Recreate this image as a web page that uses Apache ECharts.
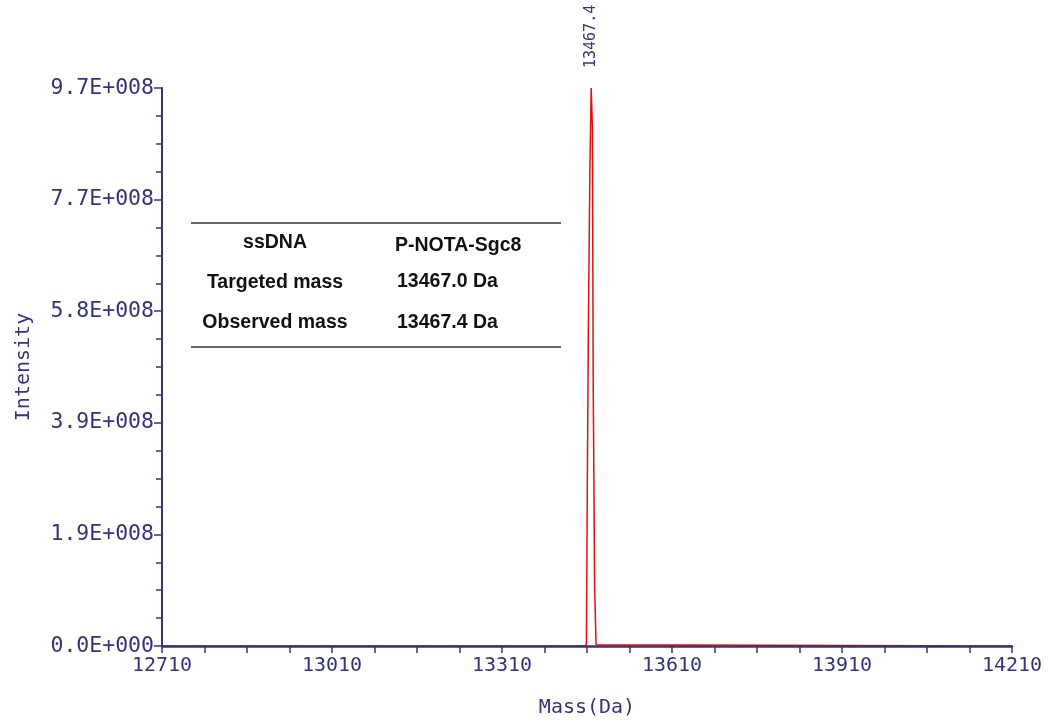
<!DOCTYPE html>
<html>
<head>
<meta charset="utf-8">
<title>Deconvoluted mass spectrum</title>
<script src="https://cdn.jsdelivr.net/npm/echarts@6/dist/echarts.min.js"></script>
<style>
  html, body { margin: 0; padding: 0; background: #ffffff; }
  #chart { width: 1048px; height: 723px; }
</style>
</head>
<body>
<div id="chart"></div>
<script>
// Spectrum: mass (Da) and intensity pairs
const massDa = [12710, 13457.5, 13459, 13460.5, 13462.5, 13465, 13467.4, 13469.5, 13471, 13473.5, 13476, 13477.5, 14210];
const intensity = [0, 0, 0.04e8, 2.7e8, 5.6e8, 8.2e8, 9.68e8, 9.0e8, 4.5e8, 1.0e8, 0.02e8, 0, 0];

// Labelled peak
const peakMass = 13467.4;

// Axis ranges and tick steps
const xMin = 12710, xMax = 14210, xStep = 300;
const yMin = 0, yMax = 9.68e8, yStep = 1.936e8;

// Summary table
const tableLeft = ['ssDNA', 'Targeted mass', 'Observed mass'];
const tableRight = ['P-NOTA-Sgc8', '13467.0 Da', '13467.4 Da'];

const axisColor = '#34347a';
const monoFont = '"DejaVu Sans Mono", monospace';
const tableFont = '"Liberation Sans", Arial, sans-serif';

const chart = echarts.init(document.getElementById('chart'), null, { renderer: 'canvas' });

const peakIndex = massDa.indexOf(peakMass);
const seriesData = massDa.map((m, i) => [m, intensity[i]]);

// Table layout
const rowY = [243, 283, 323];
const rightY = [246, 282, 323];
const graphics = [
  { type: 'line', shape: { x1: 191, y1: 223, x2: 561, y2: 223 }, style: { stroke: '#333', lineWidth: 1.5 } },
  { type: 'line', shape: { x1: 191, y1: 347, x2: 561, y2: 347 }, style: { stroke: '#333', lineWidth: 1.5 } }
];
tableLeft.forEach((t, i) => {
  graphics.push({
    type: 'text', x: 275, y: rowY[i],
    style: { text: t, fontFamily: tableFont, fontWeight: 'bold', fontSize: 19.5, fill: '#111', align: 'center', verticalAlign: 'middle' }
  });
});
tableRight.forEach((t, i) => {
  graphics.push({
    type: 'text', x: i === 0 ? 395 : 397, y: rightY[i],
    style: { text: t, fontFamily: tableFont, fontWeight: 'bold', fontSize: 19.5, fill: '#111', align: 'left', verticalAlign: 'middle' }
  });
});

chart.setOption({
  backgroundColor: '#ffffff',
  animation: false,
  grid: { left: 162, right: 36, top: 88, bottom: 75, containLabel: false },
  xAxis: {
    type: 'value',
    min: xMin, max: xMax, interval: xStep,
    name: 'Mass(Da)', nameLocation: 'middle', nameGap: 52,
    nameTextStyle: { fontFamily: monoFont, fontSize: 20, color: axisColor },
    z: 5,
    axisLine: { show: true, onZero: false, lineStyle: { color: axisColor, width: 2.5 } },
    axisTick: { show: true, length: 7, lineStyle: { color: axisColor, width: 1.5 } },
    minorTick: { show: true, splitNumber: 4, length: 7, lineStyle: { color: axisColor, width: 1.5 } },
    axisLabel: {
      fontFamily: monoFont, fontSize: 20, color: axisColor, margin: 10,
      showMinLabel: true, showMaxLabel: true,
      formatter: v => String(v)
    },
    splitLine: { show: false }
  },
  yAxis: {
    type: 'value',
    min: yMin, max: yMax, interval: yStep,
    name: 'Intensity', nameLocation: 'middle', nameGap: 128, nameRotate: 90,
    nameTextStyle: { fontFamily: monoFont, fontSize: 20, color: axisColor },
    z: 5,
    axisLine: { show: true, lineStyle: { color: axisColor, width: 2 } },
    axisTick: { show: true, length: 8, lineStyle: { color: axisColor, width: 1.5 } },
    minorTick: { show: true, splitNumber: 4, length: 6, lineStyle: { color: axisColor, width: 1.5 } },
    axisLabel: {
      fontFamily: monoFont, fontSize: 21.5, color: axisColor, margin: 8,
      formatter: v => (v / 1e8).toFixed(1) + (v === 0 ? 'E+000' : 'E+008')
    },
    splitLine: { show: false }
  },
  series: [{
    type: 'line',
    data: seriesData,
    showSymbol: false,
    symbol: 'none',
    smooth: false,
    lineStyle: { color: '#e01010', width: 1.5 },
    itemStyle: { color: '#e01010' },
    z: 2,
    markPoint: {
      symbol: 'circle',
      symbolSize: 0,
      silent: true,
      data: [{ coord: [massDa[peakIndex], intensity[peakIndex]], value: peakMass }],
      label: {
        show: true,
        formatter: String(peakMass),
        position: 'top',
        rotate: 90,
        align: 'left',
        verticalAlign: 'middle',
        distance: 20,
        fontFamily: monoFont,
        fontSize: 15,
        color: axisColor
      }
    }
  }],
  graphic: graphics
});
</script>
</body>
</html>
